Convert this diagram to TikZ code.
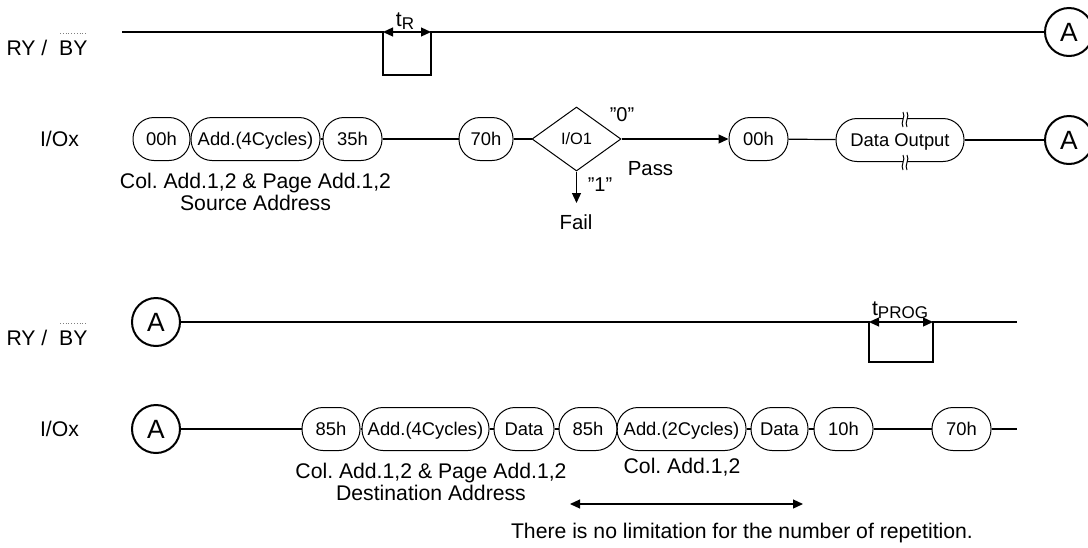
\documentclass[tikz,border=0pt]{standalone}
\usepackage{fontspec}
\setmainfont{Liberation Sans}
\frenchspacing
\usetikzlibrary{shapes.geometric}
\usetikzlibrary{arrows.meta}
\newcommand{\lblfont}{\fontsize{10.6}{9}\selectfont}
\newcommand{\pillfont}{\fontsize{9.2}{10}\selectfont}
\newcommand{\smallsub}[1]{\raisebox{-0.3ex}{\fontsize{8.5}{9}\selectfont #1}}
\tikzstyle{wire}=[line width=0.6pt]
\tikzstyle{tip}=[-{Triangle[length=5pt,width=4.5pt]}]
\tikzstyle{dim}=[{Triangle[length=5pt,width=4.5pt]}-{Triangle[length=5pt,width=4.5pt]}]
\tikzstyle{bar}=[densely dotted, gray, line width=0.4pt]
\tikzstyle{lbl}=[inner sep=0pt, font=\lblfont, align=center]
\tikzstyle{pill}=[draw, rectangle, rounded corners=10.5pt, minimum height=21.5pt, inner sep=0pt, text height=6.6pt, text depth=0pt, line width=0.5pt, font=\pillfont]
\tikzstyle{sigA}=[draw, circle, line width=1pt, minimum size=24pt, inner sep=0pt, text height=9.4pt, text depth=0pt, font=\fontsize{13.2}{14}\selectfont]
\tikzstyle{decision}=[draw, diamond, minimum width=44.5pt, minimum height=32pt, inner sep=0pt, text height=5.9pt, text depth=0pt, line width=0.5pt, font=\fontsize{8.2}{9}\selectfont]
\newcommand{\rybyname}[2]{% Syntax: {node name}{y of the signal line}
  \node[lbl] (#1) at (47,#2+16) {RY /\ \ BY};
  \draw[bar] (60,#2+1) -- (87,#2+1);
}
\newcommand{\breakmark}[2]{% Syntax: {x}{y of the top end}
  \fill[white] (#1-2,#2+2) rectangle (#1+2,#2+13);
  \foreach \dx in {-2,2}
    \draw[line width=0.5pt] (#1+\dx,#2) .. controls (#1+\dx+3,#2+5) and (#1+\dx-3,#2+10) .. (#1+\dx,#2+15);
}
\begin{document}
\begin{tikzpicture}[x=0.5pt,y=-0.5pt]
  \useasboundingbox (0,0) rectangle (1088,547);
  \begin{scope}
  % read part
  \rybyname{rybyA}{32}
  \node[lbl] (ioxA) at (59.5,139) {I/Ox};
  \coordinate (ryStart) at (122,32);
  \coordinate (tRa) at (383,32);
  \coordinate (tRb) at (431,32);
  \node[sigA] (ryAout) at (1069,32) {A};
  \draw[wire] (ryStart) -- (tRa) -- ++(0,43) -| (tRb) -- (ryAout);
  \draw[wire,dim] (tRa) -- (tRb);
  \node[lbl] (tR) at (405,21) {t\smallsub{R}};
  \node[pill, minimum width=28.5pt] (c00) at (161.5,139) {00h};
  \node[pill, minimum width=64.5pt] (addS) at (255.5,139) {Add.(4Cycles)};
  \node[pill, minimum width=29.5pt] (c35) at (352.5,139) {35h};
  \node[pill, minimum width=27pt] (c70) at (486,139) {70h};
  \node[decision] (io1) at (576.5,139) {I/O1};
  \node[pill, minimum width=29.5pt] (c00b) at (758.5,139) {00h};
  \node[pill, minimum width=64pt] (dout) at (900,140) {Data Output};
  \node[sigA] (ioAout) at (1069,140) {A};
  \foreach \a/\b in {c00/addS, addS/c35, c35/c70, c70/io1, c00b/dout, dout/ioAout}
    \draw[wire] (\a) -- (\b);
  \breakmark{905}{112}
  \breakmark{905}{155}
  \draw[wire,tip] (io1.east) -- (c00b);
  \coordinate (failEnd) at (576.5,203);
  \draw[wire,tip] (io1.south) -- (failEnd);
  \node[lbl, font=\fontsize{10}{10}\selectfont] (lblZero) at (622,115) {”0”};
  \node[lbl, font=\fontsize{10}{10}\selectfont] (lblOne) at (600,185) {”1”};
  \node[lbl, font=\fontsize{10.2}{10}\selectfont] (lblPass) at (650.5,169) {Pass};
  \node[lbl, font=\fontsize{10.2}{10}\selectfont] (lblFail) at (576,222) {Fail};
  \node[lbl] (srcAddr) at (255.5,192) {Col. Add.1,2 \& Page Add.1,2\\Source Address};
  \end{scope}
  \begin{scope}
  % program part
  \rybyname{rybyB}{322}
  \node[lbl] (ioxB) at (59.5,429) {I/Ox};
  \node[sigA] (ryAin) at (156,322) {A};
  \coordinate (tPa) at (869,322);
  \coordinate (tPb) at (933,322);
  \coordinate (ryEnd) at (1017,322);
  \draw[wire] (ryAin) -- (tPa) -- ++(0,40) -| (tPb) -- (ryEnd);
  \draw[wire,dim] (tPa) -- (tPb);
  \node[lbl] (tPROG) at (900,310) {t\smallsub{PROG}};
  \node[sigA] (ioAin) at (156,429) {A};
  \node[pill, minimum width=29pt] (c85) at (331,429) {85h};
  \node[pill, minimum width=63.5pt] (addD) at (425.5,429) {Add.(4Cycles)};
  \node[pill, minimum width=30pt] (datA) at (524,429) {Data};
  \node[pill, minimum width=29pt] (c85b) at (588,429) {85h};
  \node[pill, minimum width=64.5pt] (addC) at (681.5,429) {Add.(2Cycles)};
  \node[pill, minimum width=28.5pt] (datB) at (779.5,429) {Data};
  \node[pill, minimum width=29.5pt] (c10) at (843.5,429) {10h};
  \node[pill, minimum width=29.5pt] (c70b) at (961.5,429) {70h};
  \coordinate (ioEnd) at (1017,429);
  \foreach \a/\b in {ioAin/c85, c85/addD, addD/datA, datA/c85b, c85b/addC, addC/datB, datB/c10, c10/c70b, c70b/ioEnd}
    \draw[wire] (\a) -- (\b);
  \node[lbl] (dstAddr) at (431,482) {Col. Add.1,2 \& Page Add.1,2\\Destination Address};
  \node[lbl] (colAddr) at (682,467) {Col. Add.1,2};
  \coordinate (repL) at (570,504);
  \coordinate (repR) at (803,504);
  \draw[wire,dim] (repL) -- (repR);
  \node[lbl] (repText) at (742,533) {There is no limitation for the number of repetition.};
  \end{scope}
\end{tikzpicture}
\end{document}
